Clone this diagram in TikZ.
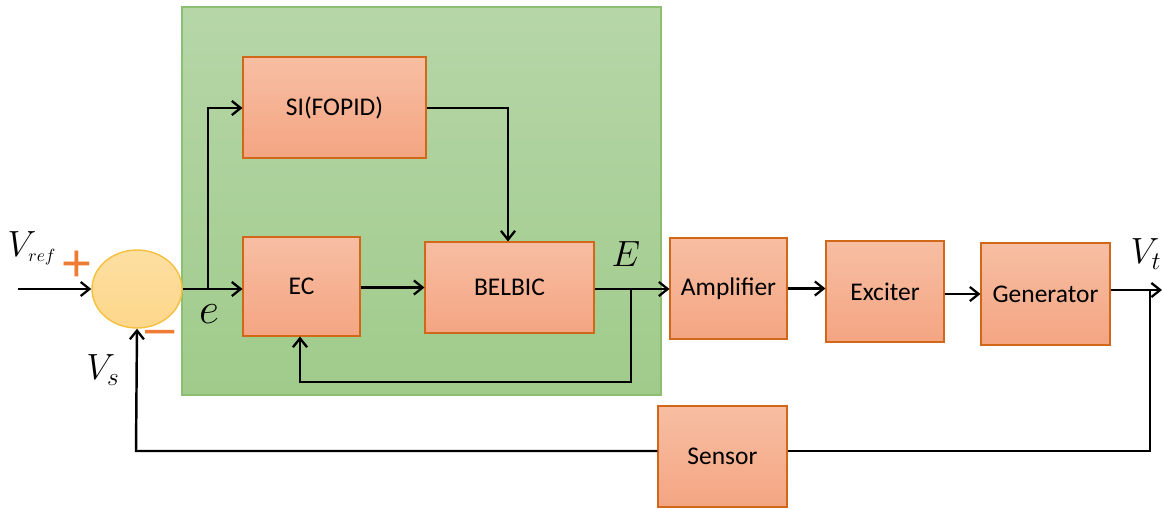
\documentclass[tikz,border=0pt]{standalone}
\usepackage{fontspec}
\setmainfont{Carlito}
\newfontfamily\signfont{Liberation Sans}
\usetikzlibrary{arrows.meta,calc,shapes.geometric}
\begin{document}
\begin{tikzpicture}[x=0.02cm,y=-0.02cm,
  block/.style={draw=orange!85!red!80!black!90, line width=0.6pt, top color=blockTop, bottom color=blockBot, inner sep=0pt, font=\fontsize{14.5}{17}\selectfont},
  conn/.style={line width=1.4pt, -{Straight Barb[length=5pt,width=8pt,line width=1.3pt]}},
  line/.style={line width=1.4pt},
  sign/.style={text=signcol, inner sep=0pt, font=\signfont\fontsize{30}{30}\selectfont},
  lab/.style={inner sep=1pt, font=\fontsize{20}{22}\selectfont}]
\definecolor{blockTop}{HTML}{F7BEA3}
\definecolor{blockBot}{HTML}{F4A582}
\definecolor{greenTop}{HTML}{B6D6A8}
\definecolor{greenBot}{HTML}{A0CB8B}
\definecolor{greenEdge}{HTML}{8CBF72}
\definecolor{signcol}{HTML}{EE7C35}
\definecolor{sumFill}{HTML}{FDD78A}
\definecolor{sumEdge}{HTML}{F5C040}
\useasboundingbox (0,0) rectangle (1162,508);
% green controller area
\path[draw=greenEdge, line width=0.8pt, top color=greenTop, bottom color=greenBot] (182,7) rectangle (661,395);
% blocks
\node[block, minimum width=183*0.02cm, minimum height=101*0.02cm] (si) at (334.5,107.5) {SI(FOPID)};
\node[block, minimum width=117*0.02cm, minimum height=99*0.02cm] (ec) at (301.5,286.5) {EC};
\node[block, minimum width=169*0.02cm, minimum height=91*0.02cm] (bel) at (509.5,287.5) {BELBIC};
\node[block, minimum width=117*0.02cm, minimum height=101*0.02cm] (amp) at (728.5,288.5) {Amplifier};
\node[block, minimum width=118*0.02cm, minimum height=101*0.02cm] (exc) at (885,291.5) {Exciter};
\node[block, minimum width=129*0.02cm, minimum height=102*0.02cm] (gen) at (1045.5,294) {Generator};
\node[block, minimum width=129*0.02cm, minimum height=101*0.02cm] (sen) at (722.5,456.5) {Sensor};
% summing junction
\node[draw=sumEdge, line width=0.8pt, top color=sumFill!80!white, bottom color=sumFill, ellipse, minimum width=90*0.02cm, minimum height=78*0.02cm, inner sep=0pt] (sum) at (137,289) {};
% coordinates
\coordinate (in) at (18,289);
\coordinate (br1) at (208,289);
\coordinate (br1t) at (208,108);
\coordinate (sic) at (508,108);
\coordinate (br2) at (631,289);
\coordinate (br2b) at (631,382);
\coordinate (ecb) at (300,382);
\coordinate (br3) at (1150,290);
\coordinate (out) at (1162,290);
\coordinate (fbr) at (1150,451);
\coordinate (fbl) at (136,451);
% connectors
\draw[conn] (in) -- (sum.west);
\draw[conn] (sum.east) -- (ec.west |- sum.east);
\draw[conn] (br1) -- (br1t) -- (si.west |- br1t);
\draw[conn] (si.east |- sic) -- (sic) -- (bel.north -| sic);
\draw[conn] (ec.east |- bel.west) -- (bel.west);
\draw[conn] (bel.east |- br2) -- (amp.west |- br2);
\draw[conn] (br2) -- (br2b) -- (ecb) -- (ec.south -| ecb);
\draw[conn] (amp.east) -- (exc.west |- amp.east);
\draw[conn] (exc.east |- gen.west) -- (gen.west);
\draw[conn] (gen.east |- br3) -- (out);
\draw[line] (br3) -- (fbr) -- (sen.east |- fbr);
\draw[conn] (sen.west |- fbl) -- (fbl) -- (sum.south);
% labels
\node[lab] (vref) at (32,248) {$V_{\scriptscriptstyle ref}$};
\node[sign] (plus) at (77,266) {+};
\node[sign] (minus) at (160,338) {\textendash};
\node[inner sep=1pt, font=\fontsize{24}{24}\selectfont] (e) at (209,314) {$e$};
\node[lab] (vs) at (103,370) {$V_{s}$};
\node[lab] (E) at (626,254) {$E$};
\node[lab] (vt) at (1146,254) {$V_{t}$};
\end{tikzpicture}
\end{document}
